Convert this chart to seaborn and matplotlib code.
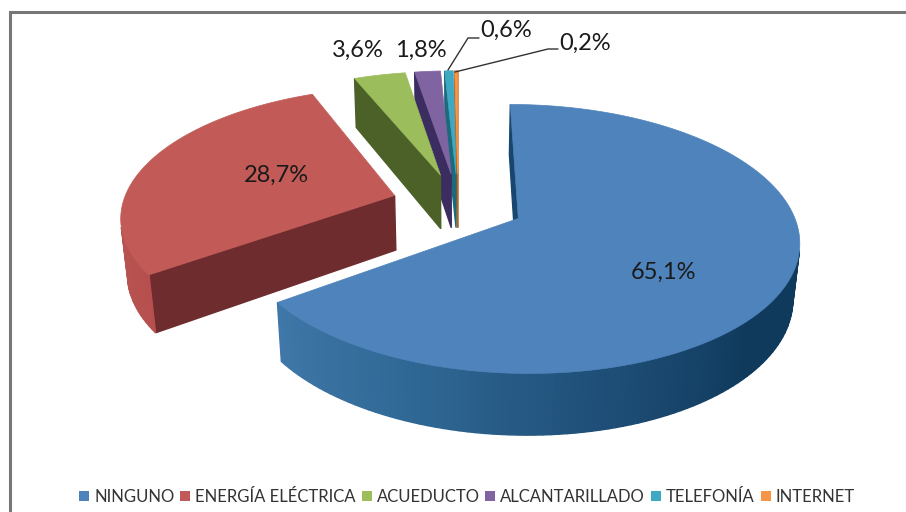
import numpy as np
import matplotlib
matplotlib.use('Agg')
import matplotlib.pyplot as plt
from matplotlib.patches import Polygon, Patch
import seaborn as sns

categorias = ['NINGUNO', 'ENERGÍA ELÉCTRICA', 'ACUEDUCTO', 'ALCANTARILLADO', 'TELEFONÍA', 'INTERNET']
valores = [65.1, 28.7, 3.6, 1.8, 0.6, 0.2]
etiquetas = ['65,1%', '28,7%', '3,6%', '1,8%', '0,6%', '0,2%']

# colores: cara superior, pared recta, pared curva (inicio ... fin)
c_top = ['#4f83bb', '#c25b58', '#9bbd5c', '#8064a2', '#3fa9c4', '#f79646']
c_lado = ['#17466f', '#6e2c2e', '#4b6128', '#3b2d5f', '#1c6a7c', '#b5651d']
c_arco = [('#3f77a8', '#2f6794', '#1f4f78', '#0f3a5c', '#0f3a5c'), ('#b85451', '#b5504e'),
          ('#7d9a46', '#7d9a46'), ('#5d4680', '#5d4680'), ('#2c8aa3', '#2c8aa3'), ('#c97a35', '#c97a35')]

# proyeccion en perspectiva (pixeles de la imagen)
CX, CY = 458, 204
A, B = 272, 127
K, C = 0.15, 0.02
ALTO = 56
EXPLODE = 0.245

sns.set_theme(style='white')
plt.rcParams['font.family'] = ['Lato', 'DejaVu Sans']

fig = plt.figure(figsize=(9.06, 5.12), dpi=100)
ax = fig.add_axes([0, 0, 1, 1])
wedges, _ = ax.pie(valores, startangle=90, counterclock=False)
angulos = [(w.theta2, w.theta1) for w in wedges]
for w in wedges:
    w.remove()
ax.set_aspect('auto')
ax.set_xlim(0, 906)
ax.set_ylim(512, 0)
ax.axis('off')


def proy(u, v, z):
    w = 1 + K * v + C * z
    return CX + A * u / w, CY - (B * v - ALTO * z) / w


def pared(p, q, color, zorder):
    pts = [proy(*p, 0), proy(*q, 0), proy(*q, 1), proy(*p, 1)]
    xs, ys = zip(*pts)
    area = 0.5 * sum(xs[i] * ys[(i + 1) % 4] - xs[(i + 1) % 4] * ys[i] for i in range(4))
    if area < 0:
        ax.add_patch(Polygon(pts, closed=True, fc=color, ec=color, lw=1.0, zorder=zorder))


z = 2
for i in [5, 4, 3, 2, 0, 1]:
    ini, fin = angulos[i]
    medio = np.radians((ini + fin) / 2)
    ou, ov = EXPLODE * np.cos(medio), EXPLODE * np.sin(medio)
    n = max(4, int(abs(ini - fin) / 1.5))
    t = np.radians(np.linspace(ini, fin, n + 1))
    borde = [(ou + np.cos(a), ov + np.sin(a)) for a in t]
    apice = (ou, ov)

    # solo los tramos curvos que miran al observador llevan degradado
    visibles = []
    for j in range(n):
        p, q = borde[j], borde[j + 1]
        if proy(*q, 0)[0] < proy(*p, 0)[0]:
            visibles.append(j)
    visibles = visibles[::-1]
    paleta = sns.blend_palette(c_arco[i], max(len(visibles), 1))
    colores = {j: paleta[k] for k, j in enumerate(visibles)}

    pared(apice, borde[0], c_lado[i], z)
    pared(borde[-1], apice, c_lado[i], z)
    for j in range(n):
        pared(borde[j], borde[j + 1], colores.get(j, c_arco[i][0]), z)
    cara = [proy(*apice, 0)] + [proy(*b, 0) for b in borde]
    ax.add_patch(Polygon(cara, closed=True, fc=c_top[i], ec=c_top[i], lw=0.5, zorder=z + 1))
    z += 2

# etiquetas de datos
pos_etiquetas = [(663, 272), (276, 175), (358, 50), (421, 50), (506, 30), (585, 43)]
for txt, (x, y) in zip(etiquetas, pos_etiquetas):
    ax.text(x, y, txt, ha='center', va='center', fontsize=17, color='#1a1a1a', zorder=30)

# lineas guia
guia_x = [[448, 468, 479], [455, 548, 558]]
guia_y = [[70, 38, 38], [72, 49, 49]]
for gx, gy in zip(guia_x, guia_y):
    ax.plot(gx, gy, color='#333333', lw=1, zorder=30)

# marco
ax.plot([9.5, 9.5, 906], [512, 11.5, 11.5], color='#77777a', lw=2.2, zorder=1, solid_joinstyle='miter')

handles = [Patch(facecolor=c, edgecolor='none') for c in c_top]
ax.legend(handles, categorias, ncol=6, loc='center', bbox_to_anchor=(467 / 906, 1 - 497 / 512),
          frameon=False, fontsize=12, handlelength=0.6, handleheight=0.6,
          handletextpad=0.3, columnspacing=0.35, labelcolor='#333333', borderpad=0)

fig.savefig('out.png', dpi=100)
